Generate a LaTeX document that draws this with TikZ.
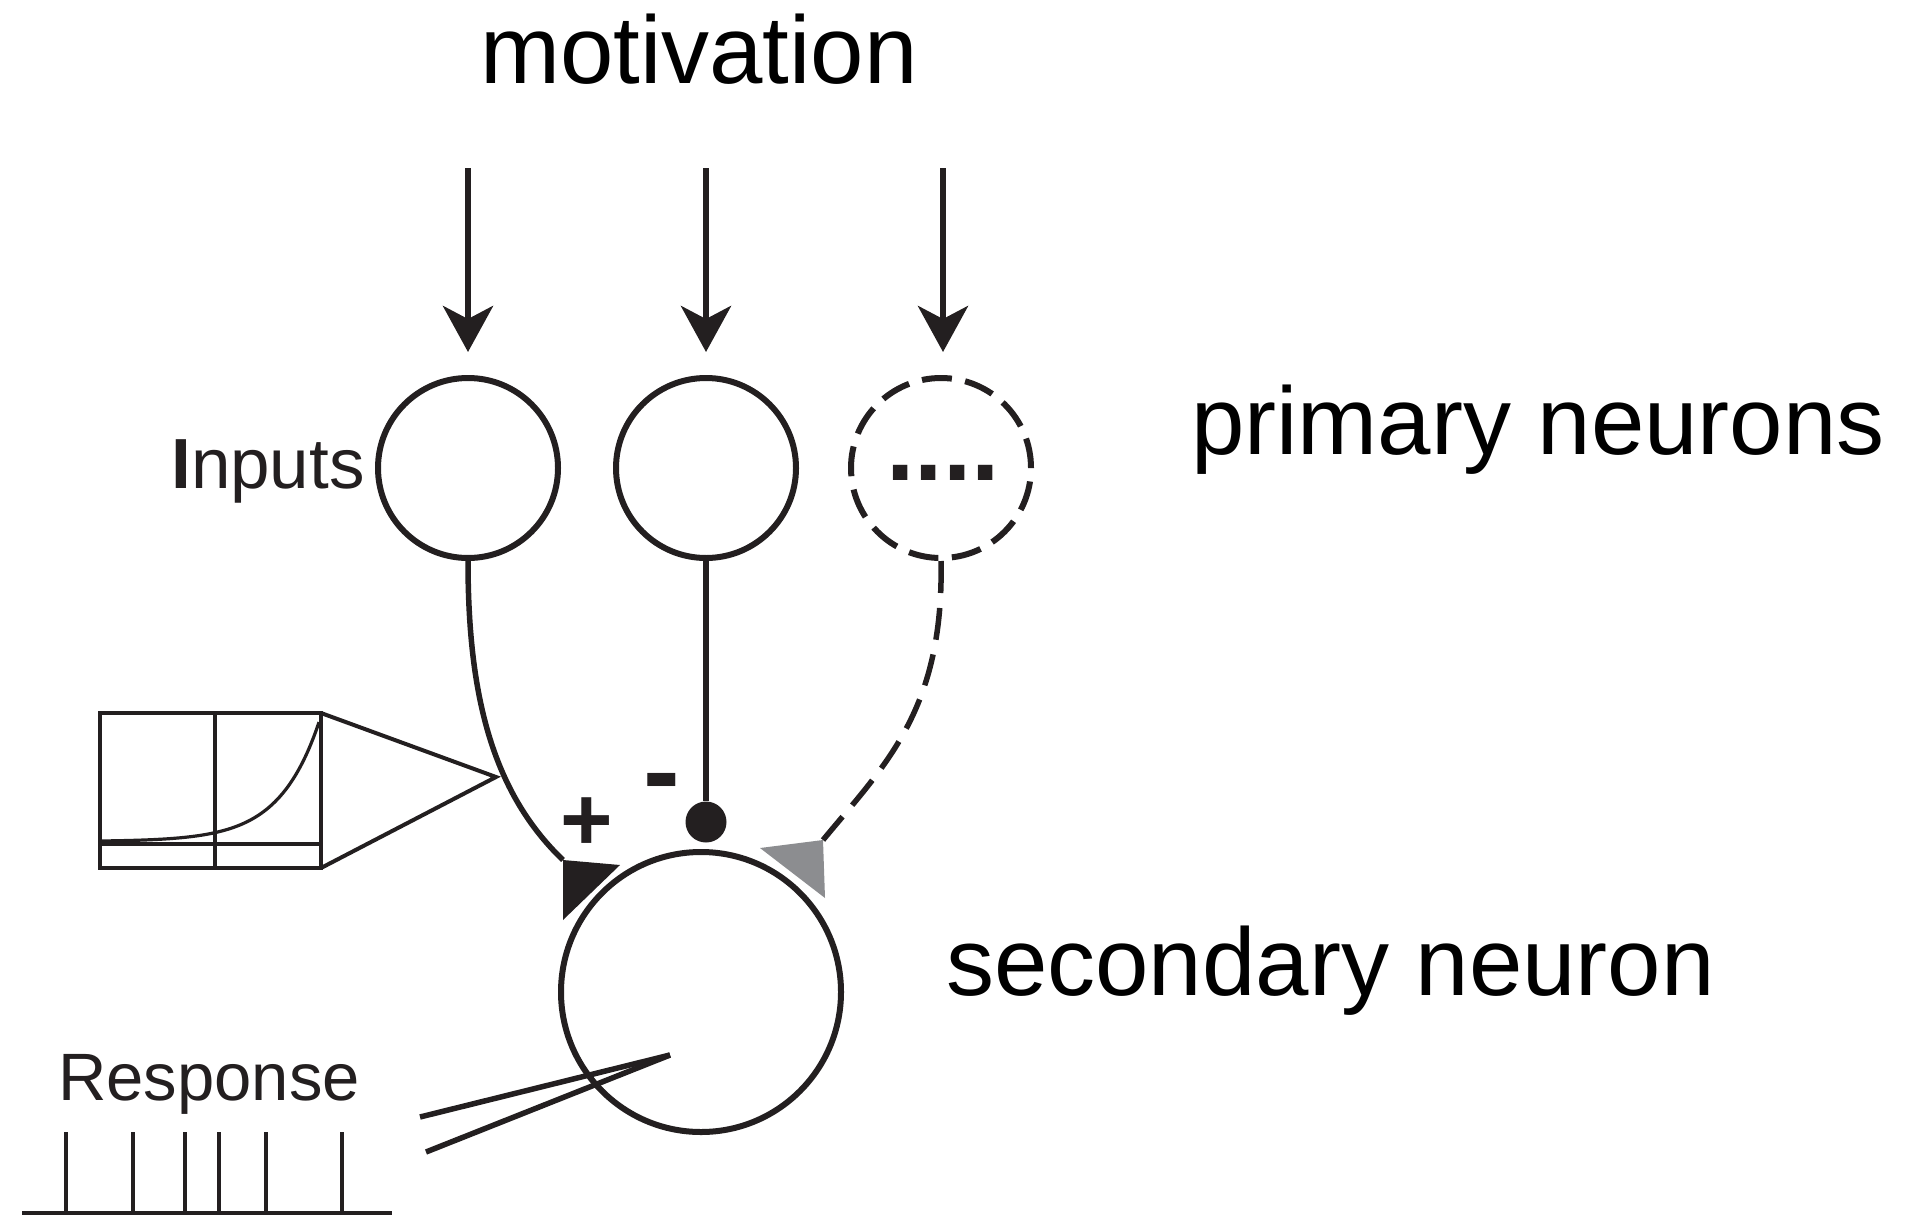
\documentclass[tikz,border=0pt]{standalone}
\usepackage{fontspec}
\setmainfont{Liberation Sans}
\usetikzlibrary{arrows.meta}
\definecolor{ink}{HTML}{231F20}
\definecolor{modgray}{HTML}{8C8D90}

\begin{document}
\begin{tikzpicture}[x=1pt,y=-1pt,
  neuron/.style={circle, draw=ink, line width=6pt, minimum size=180pt, inner sep=0pt},
  dashneuron/.style={neuron, dash pattern=on 30pt off 13.5pt},
  soma/.style={circle, draw=ink, line width=6pt, minimum size=280pt, inner sep=0pt},
  drive/.style={draw=ink, line width=6.5pt, -{Stealth[length=46pt,width=50pt,inset=13pt]}, shorten >=23pt},
  axon/.style={draw=ink, line width=5.5pt},
  thin/.style={draw=ink, line width=4pt},
  biglabel/.style={font=\fontsize{96}{110}\selectfont, text=black, inner sep=0pt},
  panellabel/.style={text=ink, inner sep=0pt},
  signlabel/.style={font=\bfseries, text=ink, inner sep=0pt}
]
\useasboundingbox (0,0) rectangle (1921,1215);

% labels
\node[biglabel, anchor=base] (lmot) at (699,83) {motivation};
\node[biglabel, anchor=base west] (lprim) at (1191,454) {primary neurons};
\node[biglabel, anchor=base west] (lsec) at (946,995) {secondary neuron};

% primary neurons
\node[neuron] (in1) at (468,468) {};
\node[neuron] (in2) at (706,468) {};
\node[dashneuron] (in3) at (941,468) {};
\node[signlabel, font=\fontsize{102}{110}\selectfont\bfseries, anchor=base] (dots) at (943,480) {....};
\node[panellabel, font=\fontsize{71}{80}\selectfont, anchor=base] (linp) at (268,488) {\textbf{I}nputs};

% motivational drive onto each primary neuron
\coordinate (m1) at (468,168);
\coordinate (m2) at (706,168);
\coordinate (m3) at (943,168);
\draw[drive] (m1) -- (in1.north);
\draw[drive] (m2) -- (in2.north);
\draw[drive] (m3) -- (m3 |- in3.north);

% secondary neuron
\node[soma] (out) at (701,992) {};

% synapses
\coordinate (excA) at (563,860);
\coordinate (excB) at (620,865);
\coordinate (excC) at (563,920);
\fill[ink] (excA) -- (excB) -- (excC) -- cycle;

\node[circle, fill=ink, minimum size=41pt, inner sep=0pt] (inh) at (706,822) {};

\coordinate (modA) at (823,840);
\coordinate (modB) at (760,848);
\coordinate (modC) at (825,898);
\fill[modgray] (modA) -- (modB) -- (modC) -- cycle;

% axons
\draw[axon] (in1.south) .. controls (468,690) and (490,790) .. (excA);
\draw[axon] (in2.south) -- (inh.north);
\draw[axon, dash pattern=on 32pt off 15pt] (in3.south) .. controls (944,710) and (885,765) .. (modA);

% synapse signs
\node[signlabel, font=\fontsize{90}{100}\selectfont\bfseries, anchor=base] (plus) at (587,850) {+};
\node[signlabel, font=\fontsize{110}{120}\selectfont\bfseries, anchor=base] (minus) at (662,808) {-};

% transfer function inset
\coordinate (boxTL) at (100,713);
\coordinate (boxBR) at (321,868);
\coordinate (zoomTip) at (496,777);
\draw[thin] (boxTL) rectangle (boxBR);
\draw[thin] (215,713) -- (215,868);
\draw[thin] (100,844) -- (321,844);
\draw[ink, line width=3.2pt] plot[domain=100:319, samples=80, smooth] (\x, {841-(exp(0.025*(\x-100))-1)/237.6*119});
\draw[thin, line join=miter] (321,713) -- (zoomTip) -- (321,868);

% recording electrode
\coordinate (elA) at (420,1117);
\coordinate (elB) at (426,1152);
\coordinate (elTip) at (670,1055);
\draw[ink, line width=5.5pt] (elA) -- (elTip);
\draw[ink, line width=5.5pt] (elB) -- (elTip);

% spike train
\node[panellabel, font=\fontsize{67}{76}\selectfont, anchor=base] (lresp) at (209,1100) {Response};
\coordinate (trainL) at (22,1213);
\coordinate (trainR) at (392,1213);
\draw[thin] (trainL) -- (trainR);
\foreach \s in {66,133,185,219,266,342}
  \draw[thin] (\s,1213) -- (\s,1132);

\end{tikzpicture}
\end{document}
